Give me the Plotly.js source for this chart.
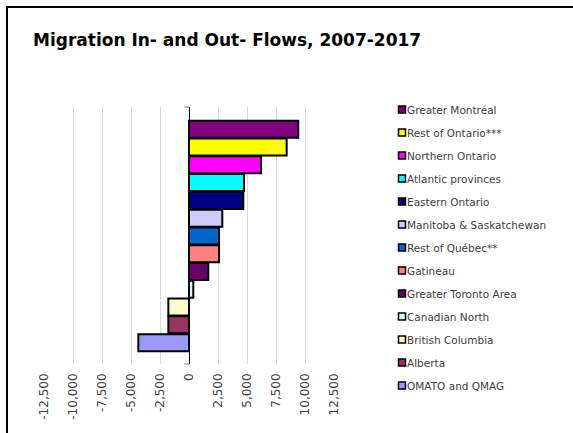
<!DOCTYPE html>
<html>
<head>
<meta charset="utf-8">
<script src="https://cdn.plot.ly/plotly-3.0.1.min.js"></script>
<style>
  html, body { margin: 0; padding: 0; background: #fff; overflow: hidden; }
  #wrap { position: relative; width: 573px; height: 433px; }
  #chart { position: absolute; left: 0; top: 0; width: 573px; height: 433px; }
  #frame { position: absolute; left: 6px; top: 6px; width: 700px; height: 600px;
           border-left: 2px solid #000; border-top: 2px solid #000; pointer-events: none; }
</style>
</head>
<body>
<div id="wrap">
  <div id="chart"></div>
  <div id="frame"></div>
</div>
<script>
// ---- data ----
var regions = [
  "Greater Montréal", "Rest of Ontario***", "Northern Ontario", "Atlantic provinces",
  "Eastern Ontario", "Manitoba & Saskatchewan", "Rest of Québec**", "Gatineau",
  "Greater Toronto Area", "Canadian North", "British Columbia", "Alberta", "OMATO and QMAG"
];
var netFlows = [9420, 8420, 6210, 4740, 4680, 2870, 2590, 2590, 1660, 370, -1780, -1780, -4370];
var barColors = [
  "#800080", "#FFFF00", "#FF00FF", "#00FFFF", "#000080", "#CCCCFF", "#0066CC",
  "#FF8080", "#660066", "#CCFFFF", "#FFFFCC", "#993366", "#9999FF"
];
var tickVals = [-12500, -10000, -7500, -5000, -2500, 0, 2500, 5000, 7500, 10000, 12500];
var tickText = ["-12,500", "-10,000", "-7,500", "-5,000", "-2,500", "0", "2,500", "5,000", "7,500", "10,000", "12,500"];
var chartTitle = "Migration In- and Out- Flows, 2007-2017";

// ---- traces: one per region so the legend lists every region ----
var traces = regions.map(function (r, i) {
  return {
    type: "bar",
    orientation: "h",
    name: r,
    legendgroup: "g" + i,
    x: [netFlows[i]],
    y: [r],
    width: 0.956,
    marker: { color: barColors[i], line: { color: "#000", width: 2 } },
    hoverinfo: "x+name"
  };
});

var layout = {
  width: 573,
  height: 433,
  paper_bgcolor: "#fff",
  plot_bgcolor: "#fff",
  margin: { l: 44, r: 239, t: 107, b: 69, pad: 0 },
  barmode: "relative",
  showlegend: true,
  font: { family: "DejaVu Sans, Verdana, sans-serif", color: "#404040" },
  title: {
    text: chartTitle,
    font: { family: "DejaVu Sans, Verdana, sans-serif", size: 17, color: "#000", weight: "bold" },
    xref: "container", yref: "container",
    x: 33 / 573, xanchor: "left",
    y: 1 - 40 / 433, yanchor: "middle"
  },
  xaxis: {
    range: [-12500, 12500],
    tickmode: "array",
    tickvals: tickVals,
    ticktext: tickText,
    tickangle: -90,
    tickfont: { size: 12, color: "#404040" },
    ticks: "",
    ticklabelstandoff: 6,
    showgrid: true,
    gridcolor: "#d9d9d9",
    gridwidth: 1,
    zeroline: true,
    zerolinecolor: "#000",
    zerolinewidth: 1,
    showline: false,
    fixedrange: true
  },
  yaxis: {
    type: "category",
    categoryorder: "array",
    categoryarray: regions,
    range: [13.2, -1.25],
    showticklabels: false,
    showgrid: false,
    zeroline: false,
    showline: false,
    ticks: "",
    fixedrange: true
  },
  legend: {
    xref: "container", yref: "container",
    x: 367 / 573, xanchor: "left",
    y: 1 - 95 / 433, yanchor: "top",
    maxheight: 420,
    traceorder: "grouped",
    tracegroupgap: 4,
    font: { family: "DejaVu Sans, Verdana, sans-serif", size: 10.5, color: "#404040" },
    bgcolor: "rgba(0,0,0,0)",
    borderwidth: 0
  },
  shapes: [
    { type: "line", xref: "x", yref: "paper", x0: -400, x1: 0, y0: 1, y1: 1,
      line: { color: "#a6a6a6", width: 1.5 } },
    { type: "line", xref: "x", yref: "paper", x0: -400, x1: 0, y0: 0, y1: 0,
      line: { color: "#a6a6a6", width: 1.5 } }
  ]
};

Plotly.newPlot("chart", traces, layout, { displayModeBar: false, staticPlot: true }).then(function () {
  // small legend keys placed right next to the text, as in the original
  var paths = document.querySelectorAll("#chart .legend .legendpoints path");
  paths.forEach(function (p) {
    p.setAttribute("d", "M18.5,3.5H11.5V-3.5H18.5Z");
    p.style.strokeWidth = "1.5px";
    p.style.stroke = "#000";
  });
});
</script>
</body>
</html>
